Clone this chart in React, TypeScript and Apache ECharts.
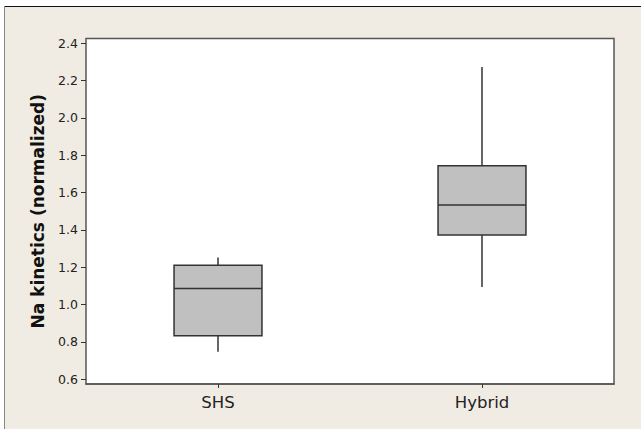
import React, { useEffect, useRef } from "react";
import * as echarts from "echarts";

const categories = ["SHS", "Hybrid"];
// [min, Q1, median, Q3, max]
const boxValues = [
  [0.748, 0.833, 1.087, 1.211, 1.252],
  [1.094, 1.373, 1.534, 1.744, 2.272],
];
const yTicks = [0.6, 0.8, 1.0, 1.2, 1.4, 1.6, 1.8, 2.0, 2.2, 2.4];
const yName = "Na kinetics (normalized)";

export default function App() {
  const ref = useRef<HTMLDivElement>(null);
  useEffect(() => {
    if (!ref.current) return;
    const chart = echarts.init(ref.current, null, { renderer: "svg" });
    const font = "DejaVu Sans";
    const data = boxValues.map((v, i) => [i, ...v]);
    chart.setOption({
      animation: false,
      backgroundColor: "#ffffff",
      textStyle: { fontFamily: font },
      graphic: [
        { type: "rect", z: -10, silent: true, shape: { x: 4, y: 6, width: 700, height: 500 }, style: { fill: "#f1ece3" } },
        { type: "line", z: -9, silent: true, shape: { x1: 4, y1: 6.5, x2: 641, y2: 6.5 }, style: { stroke: "#111", lineWidth: 1.2 } },
        { type: "line", z: -9, silent: true, shape: { x1: 4.5, y1: 6, x2: 4.5, y2: 429 }, style: { stroke: "#888", lineWidth: 1 } },
      ],
      grid: {
        left: 86,
        top: 38.5,
        right: 641 - 614,
        bottom: 429 - 384,
        show: true,
        backgroundColor: "#ffffff",
        borderColor: "#555",
        borderWidth: 1.5,
      },
      xAxis: {
        type: "category",
        data: categories,
        boundaryGap: true,
        axisLine: { show: true, lineStyle: { color: "#555", width: 1.5 } },
        axisTick: { show: true, alignWithLabel: true, length: 4, lineStyle: { color: "#333" } },
        axisLabel: { fontSize: 16.5, color: "#222", margin: 10, fontFamily: font },
        splitLine: { show: false },
      },
      yAxis: {
        type: "value",
        min: 0.575,
        max: 2.425,
        name: yName,
        nameLocation: "middle",
        nameGap: 40,
        nameTextStyle: { fontSize: 17, fontWeight: "bold", color: "#111", fontFamily: font },
        axisLine: { show: false },
        axisTick: { show: true, length: 5, customValues: yTicks, lineStyle: { color: "#333" } },
        axisLabel: {
          customValues: yTicks,
          fontSize: 12.5,
          color: "#222",
          margin: 8,
          fontFamily: font,
          formatter: (v: number) => v.toFixed(1),
        },
        splitLine: { show: false },
      },
      series: [
        {
          type: "custom",
          data,
          encode: { x: 0, y: [1, 2, 3, 4, 5] },
          renderItem: (params: any, api: any) => {
            const x = api.value(0);
            const pMin = api.coord([x, api.value(1)]);
            const pQ1 = api.coord([x, api.value(2)]);
            const pMed = api.coord([x, api.value(3)]);
            const pQ3 = api.coord([x, api.value(4)]);
            const pMax = api.coord([x, api.value(5)]);
            const bw = api.size([1, 0])[0] * 0.333;
            const cx = pMin[0];
            const stroke = { stroke: "#333", lineWidth: 1.5 };
            return {
              type: "group",
              children: [
                { type: "line", shape: { x1: cx, y1: pMax[1], x2: cx, y2: pQ3[1] }, style: stroke },
                { type: "line", shape: { x1: cx, y1: pQ1[1], x2: cx, y2: pMin[1] }, style: stroke },
                {
                  type: "rect",
                  shape: { x: cx - bw / 2, y: pQ3[1], width: bw, height: pQ1[1] - pQ3[1] },
                  style: { fill: "#c0c0c0", stroke: "#333", lineWidth: 1.5 },
                },
                { type: "line", shape: { x1: cx - bw / 2, y1: pMed[1], x2: cx + bw / 2, y2: pMed[1] }, style: stroke },
              ],
            };
          },
        },
      ],
    });
    return () => chart.dispose();
  }, []);
  return (
    <div
      ref={ref}
      style={{ position: "fixed", left: 0, top: 0, width: 641, height: 429 }}
    />
  );
}
